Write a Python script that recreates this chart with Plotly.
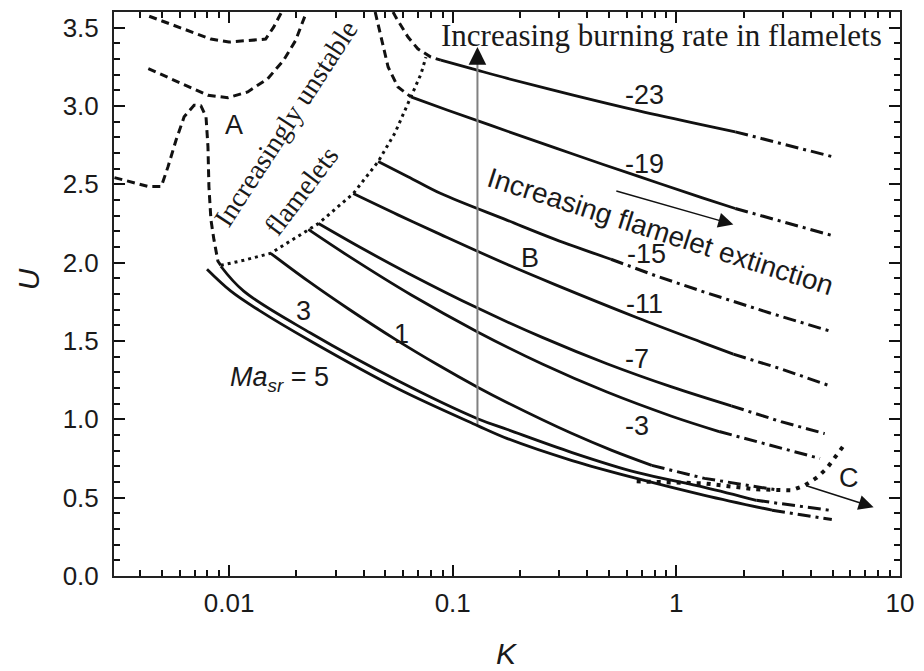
import numpy as np
import plotly.graph_objects as go

# ---------------- data (K, U) ----------------
# Ma_sr curves: solid part, then dash-dot (extinction) continuation
ma_names = ["-23", "-19", "-15", "-11", "-7", "-3", "1", "3", "5"]

k_solid = [
    [0.0885, 0.1227, 0.1757, 0.342, 0.673, 1.309, 1.836],
    [0.0650, 0.0950, 0.1757, 0.342, 0.673, 1.309, 1.836],
    [0.0464, 0.0631, 0.0885, 0.1757, 0.287, 0.510],
    [0.0359, 0.0569, 0.0885, 0.1757, 0.287, 0.673, 1.309, 1.799],
    [0.0251, 0.0398, 0.0631, 0.1292, 0.2515, 0.4896, 0.953, 1.762],
    [0.0226, 0.0341, 0.0650, 0.1292, 0.2515, 0.4896, 0.953, 1.555],
    [0.01534, 0.0226, 0.0341, 0.0552, 0.0857, 0.1292, 0.1757, 0.342, 0.515, 0.777],
    [0.00918, 0.01162, 0.02311, 0.0569, 0.1292, 0.1757, 0.342, 0.665, 1.337, 2.28],
    [0.00796, 0.01018, 0.01356, 0.02311, 0.0569, 0.1292, 0.1757, 0.342, 0.665, 1.337, 2.68],
]
u_solid = [
    [3.293, 3.237, 3.176, 3.071, 2.970, 2.879, 2.835],
    [3.058, 2.973, 2.839, 2.695, 2.552, 2.414, 2.346],
    [2.645, 2.549, 2.441, 2.270, 2.149, 2.022],
    [2.441, 2.305, 2.179, 1.988, 1.860, 1.647, 1.490, 1.416],
    [2.250, 2.087, 1.933, 1.710, 1.523, 1.355, 1.207, 1.086],
    [2.212, 2.043, 1.795, 1.558, 1.353, 1.174, 1.020, 0.922],
    [2.060, 1.882, 1.706, 1.512, 1.348, 1.205, 1.106, 0.909, 0.802, 0.706],
    [1.977, 1.818, 1.551, 1.246, 1.004, 0.935, 0.788, 0.661, 0.566, 0.483],
    [1.958, 1.818, 1.697, 1.500, 1.195, 0.960, 0.877, 0.737, 0.623, 0.515, 0.420],
]
k_dashdot = [
    [1.836, 3.097, 5.01],
    [1.836, 3.097, 4.96],
    [0.510, 0.817, 1.337, 2.60, 5.01],
    [1.799, 2.97, 4.86],
    [1.762, 2.94, 4.61],
    [1.555, 2.60, 4.39],
    [0.777, 1.337, 2.88],
    [2.28, 4.83],
    [2.68, 4.96],
]
u_dashdot = [
    [2.835, 2.753, 2.676],
    [2.346, 2.257, 2.174],
    [2.022, 1.914, 1.812, 1.680, 1.558],
    [1.416, 1.320, 1.214],
    [1.086, 0.985, 0.909],
    [0.922, 0.839, 0.750],
    [0.706, 0.623, 0.547],
    [0.483, 0.420],
    [0.420, 0.360],
]

# dotted boundary of stable flamelets
k_bound = [0.00918, 0.01162, 0.01534, 0.0226, 0.0251, 0.0359, 0.0464, 0.0552, 0.0650, 0.0721, 0.0759]
u_bound = [1.983, 2.015, 2.060, 2.212, 2.250, 2.441, 2.645, 2.829, 3.058, 3.204, 3.312]

# dashed curves (unstable region A)
k_dash = [
    [0.00439, 0.00655, 0.00829, 0.00997, 0.01288, 0.01456, 0.01581, 0.01665, 0.01717],
    [0.00435, 0.00591, 0.00804, 0.00987, 0.01211, 0.01487, 0.01751, 0.01982, 0.02149, 0.02218],
    [0.00307, 0.00435, 0.00497, 0.00533, 0.00579, 0.00629, 0.00697, 0.00748, 0.00788,
     0.00804, 0.00812, 0.00829, 0.00855, 0.00891, 0.00918],
    [0.0450, 0.0478, 0.0514, 0.0569, 0.0650],
    [0.0541, 0.0557, 0.0631, 0.0698, 0.0798, 0.0885],
]
u_dash = [
    [3.573, 3.484, 3.427, 3.408, 3.420, 3.427, 3.503, 3.566, 3.60],
    [3.238, 3.153, 3.069, 3.053, 3.090, 3.174, 3.291, 3.418, 3.545, 3.60],
    [2.543, 2.486, 2.486, 2.613, 2.783, 2.931, 3.005, 3.001, 2.931,
     2.740, 2.486, 2.274, 2.147, 2.009, 1.983],
    [3.60, 3.439, 3.249, 3.121, 3.058],
    [3.60, 3.566, 3.440, 3.365, 3.312, 3.293],
]

# dotted extinction boundary (C)
k_ext = [0.665, 1.337, 2.28, 3.29, 3.76, 4.26, 4.71, 5.12, 5.61]
u_ext = [0.604, 0.591, 0.553, 0.547, 0.579, 0.629, 0.687, 0.757, 0.833]

# vertical arrow (increasing burning rate)
k_varrow = 0.129
u_varrow = [0.97, 3.376]

# text labels: (text, K, U)
curve_labels = [("-23", 0.723, 3.071), ("-19", 0.723, 2.632), ("-15", 0.738, 2.053),
                ("-11", 0.723, 1.736), ("-7", 0.665, 1.386), ("-3", 0.665, 0.960),
                ("1", 0.0587, 1.545), ("3", 0.0215, 1.691),
                ("A", 0.0105, 2.880), ("B", 0.2224, 2.028), ("C", 5.90, 0.623)]

BLACK = "#111111"
SANS = "Liberation Sans, Arial, sans-serif"
SERIF = "Liberation Serif, Times New Roman, serif"

fig = go.Figure()

for kd, ud in zip(k_dash, u_dash):
    fig.add_trace(go.Scatter(x=kd, y=ud, mode="lines",
                             line=dict(color=BLACK, width=3, dash="8px,5px")))

fig.add_trace(go.Scatter(x=k_bound, y=u_bound, mode="lines",
                         line=dict(color=BLACK, width=3, dash="3px,4px")))

for ks, us, kd, ud in zip(k_solid, u_solid, k_dashdot, u_dashdot):
    fig.add_trace(go.Scatter(x=ks, y=us, mode="lines",
                             line=dict(color=BLACK, width=2.8, shape="spline", smoothing=1.0)))
    fig.add_trace(go.Scatter(x=kd, y=ud, mode="lines",
                             line=dict(color=BLACK, width=3, dash="13px,5px,3px,5px")))

fig.add_trace(go.Scatter(x=k_ext, y=u_ext, mode="lines",
                         line=dict(color=BLACK, width=4, dash="4px,6px")))

fig.add_trace(go.Scatter(x=[k_varrow, k_varrow], y=[u_varrow[0], u_varrow[1] - 0.08], mode="lines",
                         line=dict(color="#808080", width=2)))

annotations = []
for txt, kx, uy in curve_labels:
    annotations.append(dict(x=np.log10(kx), y=uy, xref="x", yref="y", text=txt, showarrow=False,
                            font=dict(family=SANS, size=27, color="#1a1a1a"),
                            xanchor="center", yanchor="middle"))

annotations.append(dict(x=np.log10(0.01682), y=1.259, xref="x", yref="y",
                        text="<i>Ma</i><sub><i>sr</i></sub> = 5", showarrow=False,
                        font=dict(family=SANS, size=27, color="#1a1a1a"),
                        xanchor="center", yanchor="middle"))
annotations.append(dict(x=np.log10(0.860), y=3.452, xref="x", yref="y",
                        text="Increasing burning rate in flamelets", showarrow=False,
                        font=dict(family=SERIF, size=31, color="#1a1a1a"),
                        xanchor="center", yanchor="middle"))
annotations.append(dict(x=np.log10(0.01788), y=2.89, xref="x", yref="y",
                        text="Increasingly unstable", showarrow=False, textangle=-57,
                        font=dict(family=SERIF, size=28, color="#1a1a1a"),
                        xanchor="center", yanchor="middle"))
annotations.append(dict(x=np.log10(0.0211), y=2.46, xref="x", yref="y",
                        text="flamelets", showarrow=False, textangle=-53,
                        font=dict(family=SERIF, size=28, color="#1a1a1a"),
                        xanchor="center", yanchor="middle"))
annotations.append(dict(x=np.log10(0.85), y=2.200, xref="x", yref="y",
                        text="Increasing flamelet extinction", showarrow=False, textangle=17.7,
                        font=dict(family=SANS, size=28, color="#1a1a1a"),
                        xanchor="center", yanchor="middle"))

# arrow heads
annotations.append(dict(x=np.log10(k_varrow), y=u_varrow[1], ax=np.log10(k_varrow), ay=u_varrow[1] - 0.1,
                        xref="x", yref="y", axref="x", ayref="y", text="", showarrow=True,
                        arrowhead=2, arrowsize=2.2, arrowwidth=1.6, arrowcolor=BLACK))
annotations.append(dict(x=np.log10(1.799), y=2.244, ax=np.log10(0.531), ay=2.460,
                        xref="x", yref="y", axref="x", ayref="y", text="", showarrow=True,
                        arrowhead=2, arrowsize=2.0, arrowwidth=1.5, arrowcolor=BLACK))
annotations.append(dict(x=np.log10(7.63), y=0.439, ax=np.log10(3.76), ay=0.579,
                        xref="x", yref="y", axref="x", ayref="y", text="", showarrow=True,
                        arrowhead=2, arrowsize=2.0, arrowwidth=1.5, arrowcolor=BLACK))

# axis titles
annotations.append(dict(x=0.5, y=0, xref="paper", yref="paper", yshift=-77, text="<i>K</i>",
                        showarrow=False, font=dict(family=SANS, size=30, color="#1a1a1a"),
                        xanchor="center", yanchor="middle"))
annotations.append(dict(x=0, y=0.526, xref="paper", yref="paper", xshift=-86, text="<i>U</i>",
                        showarrow=False, textangle=-90, font=dict(family=SANS, size=30, color="#1a1a1a"),
                        xanchor="center", yanchor="middle"))

fig.update_layout(
    width=924, height=671,
    margin=dict(l=114, r=20, t=10, b=95),
    paper_bgcolor="white", plot_bgcolor="white",
    showlegend=False,
    annotations=annotations,
    xaxis=dict(type="log", range=[-2.515, 1.0005],
               tickmode="array", tickvals=[0.01, 0.1, 1, 10], ticktext=["0.01", "0.1", "1", "10"],
               ticks="inside", ticklen=11, tickwidth=2, tickcolor=BLACK,
               showline=True, linewidth=2, linecolor="#222222", mirror="allticks",
               showgrid=False, zeroline=False, ticklabelstandoff=3,
               tickfont=dict(family=SANS, size=26, color="#1a1a1a"),
               minor=dict(tickmode="linear", dtick="D1", ticks="inside", ticklen=6,
                          tickwidth=1.5, tickcolor=BLACK, showgrid=False)),
    yaxis=dict(range=[0, 3.6],
               tickmode="array", tickvals=[0, 0.5, 1.0, 1.5, 2.0, 2.5, 3.0, 3.5],
               ticktext=["0.0", "0.5", "1.0", "1.5", "2.0", "2.5", "3.0", "3.5"],
               ticks="inside", ticklen=11, tickwidth=2, tickcolor=BLACK,
               showline=True, linewidth=2, linecolor="#222222", mirror="allticks",
               showgrid=False, zeroline=False, ticklabelstandoff=8,
               tickfont=dict(family=SANS, size=26, color="#1a1a1a"),
               minor=dict(tickmode="linear", tick0=0, dtick=0.1, ticks="inside", ticklen=6,
                          tickwidth=1.5, tickcolor=BLACK, showgrid=False)),
)

fig.write_html("out.html")
